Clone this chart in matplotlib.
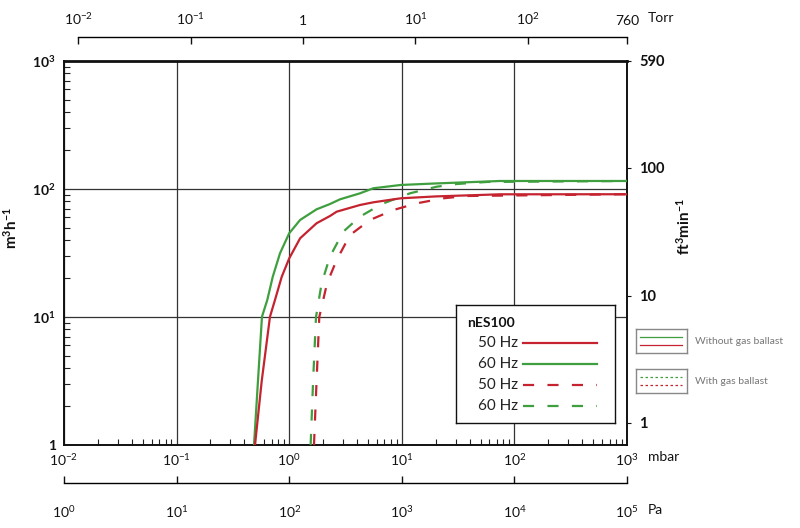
import matplotlib
matplotlib.use('Agg')
import matplotlib.pyplot as plt
import numpy as np
from matplotlib.ticker import FixedLocator, FixedFormatter, LogLocator, NullFormatter, NullLocator

plt.rcParams['font.family'] = ['Lato', 'DejaVu Sans']
plt.rcParams['mathtext.fontset'] = 'custom'
plt.rcParams['mathtext.rm'] = 'Lato'
plt.rcParams['mathtext.bf'] = 'Lato:bold'

# ---------------- data (pressure in mbar, pumping speed in m3/h) ----------------
p_green_solid = [0.487, 0.528, 0.573, 0.639, 0.714, 0.829, 1.0, 1.25, 1.75, 2.30, 2.83, 4.25, 5.58, 9.78, 20.0, 74.5, 1000]
q_green_solid = [1.0, 3.16, 10.05, 13.6, 20.6, 31.5, 45.1, 57.3, 69.4, 76.3, 83.1, 92.5, 101.3, 107.5, 110.5, 115.5, 115.5]

p_red_solid = [0.497, 0.570, 0.675, 0.748, 0.858, 1.0, 1.25, 1.75, 2.30, 2.64, 4.25, 5.58, 9.78, 20.0, 74.5, 1000]
q_red_solid = [1.0, 3.16, 10.05, 13.6, 20.6, 28.7, 41.2, 54.0, 61.5, 66.5, 75.0, 78.7, 84.6, 87.5, 90.9, 91.0]

p_green_dash = [1.55, 1.63, 1.73, 1.94, 2.30, 3.02, 4.25, 6.63, 11.8, 20.4, 30.7, 57.0, 1000]
q_green_dash = [1.0, 3.16, 10.0, 18.3, 29.6, 46.4, 60.8, 76.3, 92.5, 104.2, 109.4, 113.5, 115.5]

p_red_dash = [1.66, 1.75, 1.85, 2.17, 2.64, 3.47, 5.22, 8.41, 13.6, 23.4, 37.7, 1000]
q_red_dash = [1.0, 3.16, 10.0, 18.4, 27.9, 43.7, 57.3, 68.5, 77.3, 84.6, 88.2, 91.0]

mbar_ticks = [1e-2, 1e-1, 1, 10, 100, 1000]
mbar_labels = [r'$\mathregular{10^{-2}}$', r'$\mathregular{10^{-1}}$', r'$\mathregular{10^{0}}$',
               r'$\mathregular{10^{1}}$', r'$\mathregular{10^{2}}$', r'$\mathregular{10^{3}}$']
m3h_ticks = [1, 10, 100, 1000]
m3h_labels = ['1', r'$\mathregular{10^{1}}$', r'$\mathregular{10^{2}}$', r'$\mathregular{10^{3}}$']
cfm_tick_pos = [1.486, 14.6, 146, 1000]
cfm_labels = ['1', '10', '100', '590']
torr_ticks = [0.01, 0.1, 1, 10, 100, 760]
torr_labels = [r'$\mathregular{10^{-2}}$', r'$\mathregular{10^{-1}}$', '1',
               r'$\mathregular{10^{1}}$', r'$\mathregular{10^{2}}$', '760']
pa_ticks = [1, 10, 100, 1e3, 1e4, 1e5]
pa_labels = [r'$\mathregular{10^{0}}$', r'$\mathregular{10^{1}}$', r'$\mathregular{10^{2}}$',
             r'$\mathregular{10^{3}}$', r'$\mathregular{10^{4}}$', r'$\mathregular{10^{5}}$']
legend_labels = ['50 Hz', '60 Hz', '50 Hz', '60 Hz']

RED = '#c4232f'
GREEN = '#3f9f3f'
DASH = (0, (5, 6))
W, H = 800, 528

fig = plt.figure(figsize=(8, 5.28), dpi=100)
L, R, T, B = 64, 627, 61, 445
ax = fig.add_axes([L / W, 1 - B / H, (R - L) / W, (B - T) / H])
ax.set_xscale('log')
ax.set_yscale('log')
ax.set_xlim(0.01, 1000)
ax.set_ylim(1, 1000)

ax.plot(p_red_dash, q_red_dash, color=RED, lw=1.6, ls=DASH, zorder=3)
ax.plot(p_green_dash, q_green_dash, color=GREEN, lw=1.6, ls=DASH, zorder=3)
ax.plot(p_green_solid, q_green_solid, color=GREEN, lw=1.6, zorder=4)
ax.plot(p_red_solid, q_red_solid, color=RED, lw=1.6, zorder=4)

ax.xaxis.set_major_locator(FixedLocator(mbar_ticks))
ax.xaxis.set_major_formatter(FixedFormatter(mbar_labels))
ax.yaxis.set_major_locator(FixedLocator(m3h_ticks))
ax.yaxis.set_major_formatter(FixedFormatter(m3h_labels))
ax.xaxis.set_minor_locator(LogLocator(base=10, subs=np.arange(2, 10), numticks=100))
ax.yaxis.set_minor_locator(LogLocator(base=10, subs=np.arange(2, 10), numticks=100))
ax.xaxis.set_minor_formatter(NullFormatter())
ax.yaxis.set_minor_formatter(NullFormatter())
ax.tick_params(which='major', length=0, labelsize=10, colors='#111')
ax.tick_params(axis='x', which='major', pad=5)
ax.tick_params(axis='y', which='major', pad=6)
for lab in ax.get_yticklabels():
    lab.set_fontweight('bold')
ax.tick_params(which='minor', direction='in', length=4.5, width=0.8, color='#222',
               left=True, bottom=True, top=False, right=False)
ax.grid(True, which='major', color='#333333', lw=0.9)
for s in ax.spines.values():
    s.set_linewidth(1.4)
    s.set_color('#111')
ax.spines['top'].set_linewidth(2.0)
ax.set_ylabel(r'$\mathregular{m^3h^{-1}}$', fontsize=11, fontweight='bold', color='#111')
ax.yaxis.set_label_coords((20 - L) / (R - L), (B - 228) / (B - T))

axr = ax.twinx()
axr.set_yscale('log')
axr.set_ylim(1, 1000)
axr.yaxis.set_major_locator(FixedLocator(cfm_tick_pos))
axr.yaxis.set_major_formatter(FixedFormatter(cfm_labels))
axr.yaxis.set_minor_locator(NullLocator())
axr.tick_params(axis='y', which='major', direction='out', length=3, width=0.8, pad=6,
                labelsize=10.5, colors='#111')
for lab in axr.get_yticklabels():
    lab.set_fontweight('bold')
for s in axr.spines.values():
    s.set_visible(False)
axr.set_ylabel(r'$\mathregular{ft^3min^{-1}}$', fontsize=11, fontweight='bold', color='#111')
axr.yaxis.set_label_coords((675 - L) / (R - L), (B - 227) / (B - T))

# Torr scale on top
axt = fig.add_axes([L / W, 1 - 37 / H - 0.001, (R - L) / W, 0.001])
axt.set_xscale('log')
axt.set_xlim(0.01 / 1.33322, 761)
axt.patch.set_visible(False)
for k in ['left', 'right', 'bottom']:
    axt.spines[k].set_visible(False)
axt.spines['top'].set_bounds(0.01, 760)
axt.spines['top'].set_linewidth(1.0)
axt.set_yticks([])
axt.xaxis.tick_top()
axt.xaxis.set_major_locator(FixedLocator(torr_ticks))
axt.xaxis.set_major_formatter(FixedFormatter(torr_labels))
axt.xaxis.set_minor_locator(NullLocator())
axt.tick_params(axis='x', direction='in', length=5, width=1.0, pad=7, labelsize=10, colors='#111')

# Pa scale at bottom
axp = fig.add_axes([L / W, 1 - 483 / H, (R - L) / W, 0.001])
axp.set_xscale('log')
axp.set_xlim(1, 1e5)
axp.patch.set_visible(False)
for k in ['left', 'right', 'top']:
    axp.spines[k].set_visible(False)
axp.spines['bottom'].set_linewidth(1.0)
axp.set_yticks([])
axp.xaxis.set_major_locator(FixedLocator(pa_ticks))
axp.xaxis.set_major_formatter(FixedFormatter(pa_labels))
axp.xaxis.set_minor_locator(NullLocator())
axp.tick_params(axis='x', direction='in', length=5, width=1.0, pad=15, labelsize=10, colors='#111')

fig.text(648 / W, 1 - 18 / H, 'Torr', fontsize=10, va='center', ha='left', color='#111')
fig.text(648 / W, 1 - 457 / H, 'mbar', fontsize=10, va='center', ha='left', color='#111')
fig.text(648 / W, 1 - 510 / H, 'Pa', fontsize=10, va='center', ha='left', color='#111')

# legend box
lx, ly, lw_, lh = 456, 305, 159, 118
leg = fig.add_axes([lx / W, 1 - (ly + lh) / H, lw_ / W, lh / H])
leg.set_xlim(0, lw_)
leg.set_ylim(lh, 0)
leg.set_xticks([])
leg.set_yticks([])
for s in leg.spines.values():
    s.set_linewidth(1.0)
    s.set_color('#111')
leg.text(11, 18, 'nES100', fontsize=10, fontweight='bold', va='center', ha='left', color='#111')
rows = [38, 59, 80, 101]
styles = [(RED, '-'), (GREEN, '-'), (RED, DASH), (GREEN, DASH)]
for yy, lab, (c, st) in zip(rows, legend_labels, styles):
    leg.text(62, yy, lab, fontsize=11, va='center', ha='right', color='#222')
    leg.plot([67, 141], [yy, yy], color=c, ls=st, lw=1.6)

# gas ballast boxes
def small_box(top, text, style):
    b = fig.add_axes([636 / W, 1 - (top + 24) / H, 51 / W, 24 / H])
    b.set_xlim(0, 51)
    b.set_ylim(24, 0)
    b.set_xticks([])
    b.set_yticks([])
    for s in b.spines.values():
        s.set_linewidth(1.0)
        s.set_color('#888888')
    b.plot([4, 46], [7.7, 7.7], color=GREEN, lw=0.9, ls=style)
    b.plot([4, 46], [16, 16], color=RED, lw=0.9, ls=style)
    fig.text(695 / W, 1 - (top + 12.5) / H, text, fontsize=7.5, color='#777777', va='center', ha='left')

small_box(329, 'Without gas ballast', '-')
small_box(369, 'With gas ballast', (0, (2, 2)))

fig.savefig('out.png', dpi=100)
